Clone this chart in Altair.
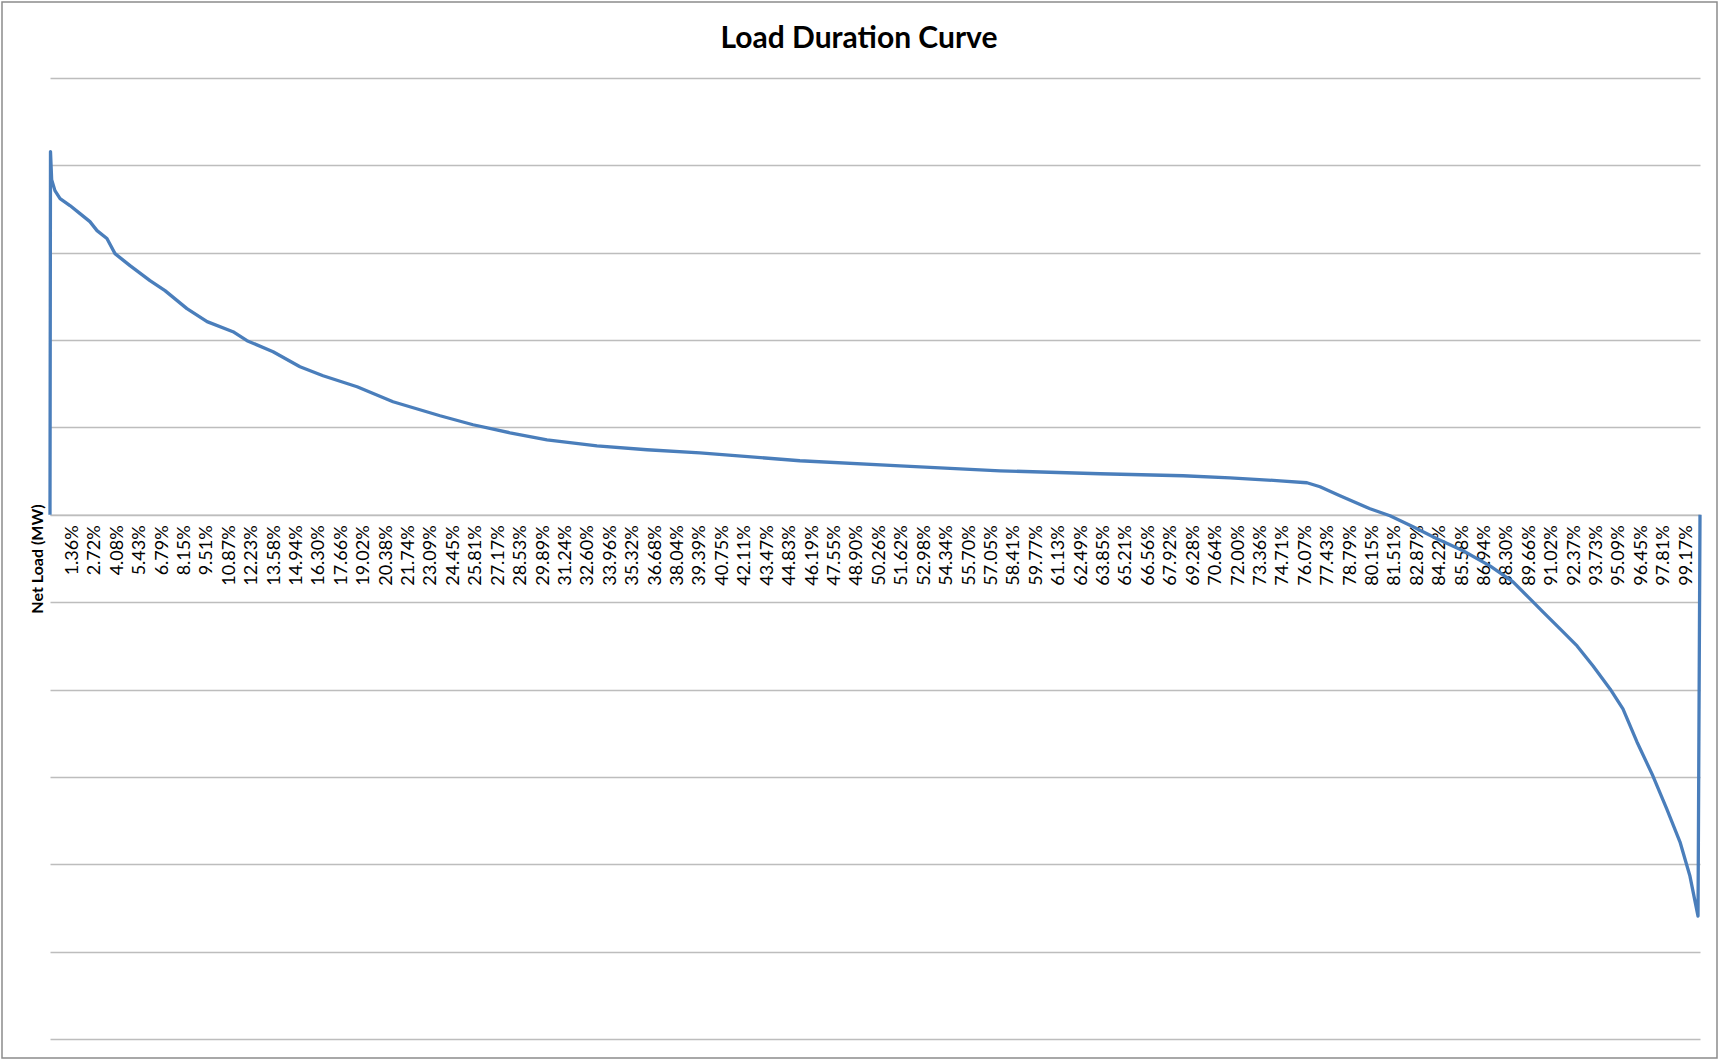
import altair as alt
import pandas as pd

pct = [0.0, 0.03, 0.10, 0.30, 0.61, 1.21, 1.82, 2.42, 2.85, 3.45, 3.94, 4.85, 6.06, 6.97,
       8.30, 9.52, 11.09, 11.94, 13.52, 15.15, 16.55, 18.61, 20.79, 23.64, 25.64, 27.88,
       30.12, 33.15, 36.18, 39.39, 45.45, 51.52, 57.58, 63.64, 68.67, 71.52, 74.55, 76.18,
       76.97, 78.18, 80.00, 81.21, 82.61, 84.06, 85.64, 87.27, 88.67, 89.70, 90.48, 91.52,
       92.55, 93.52, 94.55, 95.33, 96.18, 97.15, 97.99, 98.79, 99.39, 99.88, 100.0]
# Net load (MW)
load = [0, 4158, 3837, 3711, 3620, 3540, 3448, 3356, 3253, 3162, 2990, 2852, 2680, 2566,
        2360, 2211, 2096, 1993, 1867, 1695, 1592, 1466, 1294, 1134, 1031, 939,
        859, 790, 745, 710, 619, 561, 504, 470, 447, 424, 389, 367,
        321, 218, 69, -11, -137, -275, -412, -584, -767, -962, -1111, -1306,
        -1501, -1730, -1993, -2222, -2600, -2990, -3368, -3746, -4135, -4593, 0]

tick_labels = ["1.36%", "2.72%", "4.08%", "5.43%", "6.79%", "8.15%", "9.51%", "10.87%",
               "12.23%", "13.58%", "14.94%", "16.30%", "17.66%", "19.02%", "20.38%",
               "21.74%", "23.09%", "24.45%", "25.81%", "27.17%", "28.53%", "29.89%",
               "31.24%", "32.60%", "33.96%", "35.32%", "36.68%", "38.04%", "39.39%",
               "40.75%", "42.11%", "43.47%", "44.83%", "46.19%", "47.55%", "48.90%",
               "50.26%", "51.62%", "52.98%", "54.34%", "55.70%", "57.05%", "58.41%",
               "59.77%", "61.13%", "62.49%", "63.85%", "65.21%", "66.56%", "67.92%",
               "69.28%", "70.64%", "72.00%", "73.36%", "74.71%", "76.07%", "77.43%",
               "78.79%", "80.15%", "81.51%", "82.87%", "84.22%", "85.58%", "86.94%",
               "88.30%", "89.66%", "91.02%", "92.37%", "93.73%", "95.09%", "96.45%",
               "97.81%", "99.17%"]
y_grid = [-6000, -5000, -4000, -3000, -2000, -1000, 0, 1000, 2000, 3000, 4000, 5000]

tick_vals = [float(s.rstrip("%")) for s in tick_labels]

W, H = 1650, 961
Y_MIN, Y_MAX = -6000, 5000
# move the x axis up so that it sits on the zero line
axis_offset = -H * (0 - Y_MIN) / (Y_MAX - Y_MIN)

df = pd.DataFrame({"pct": pct, "load": load})

GRID = "#BDBDBD"
FONT = "Lato"

line = alt.Chart(df).mark_line(color="#4A7EBB", strokeWidth=3.3, strokeJoin="round").encode(
    x=alt.X("pct:Q",
            scale=alt.Scale(domain=[0, 100], nice=False, zero=False),
            axis=alt.Axis(values=tick_vals,
                          labelExpr="format(datum.value, '.2f') + '%'",
                          labelAngle=270, labelAlign="right", labelBaseline="middle",
                          labelOverlap=False, labelFont=FONT, labelFontSize=18,
                          labelColor="#000000", labelPadding=10,
                          ticks=False, grid=False, domainColor=GRID, domainWidth=1.5,
                          offset=axis_offset),
            title=None),
    y=alt.Y("load:Q",
            scale=alt.Scale(domain=[Y_MIN, Y_MAX], nice=False, zero=False),
            axis=alt.Axis(values=y_grid, labels=False, ticks=False, domain=False,
                          grid=True, gridColor=GRID, gridWidth=1.5,
                          titleFont=FONT, titleFontSize=16, titleFontWeight="bold",
                          titleColor="#000000", titlePadding=5),
            title="Net Load (MW)"),
)

frame = alt.Chart(pd.DataFrame({"a": [0]})).mark_rect(
    fillOpacity=0, stroke="#8C8C8C", strokeWidth=1.5
).encode(x=alt.value(-48), x2=alt.value(1667), y=alt.value(-76), y2=alt.value(980))

chart = alt.layer(frame, line).properties(
    width=W, height=H,
    title=alt.TitleParams("Load Duration Curve", font=FONT, fontSize=30, fontWeight="bold",
                          color="#000000", anchor="middle", frame="group", offset=-53, dx=-16),
    autosize=alt.AutoSizeParams(type="none"),
    padding={"left": 50, "top": 78, "right": 19, "bottom": 21},
).configure_view(strokeOpacity=0)

chart.save("out.html", embed_options={"renderer": "svg", "actions": False})
